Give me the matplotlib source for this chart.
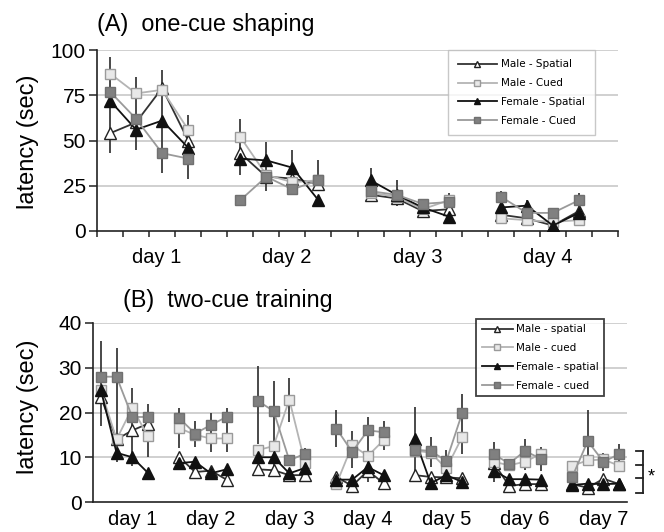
import numpy as np
import matplotlib
matplotlib.use("Agg")
from matplotlib import pyplot as plt

plt.rcParams['font.family'] = ['Liberation Sans', 'DejaVu Sans']

# ---- panel A: one-cue shaping (4 days x 4 trials) ----
days_a = ['day 1', 'day 2', 'day 3', 'day 4']
male_spatial_a = [54, 60, 79, 50, 43, 30, 29, 26, 20, 18, 11, 12, 9, 7, 3, 11]
male_cued_a = [87, 76, 78, 56, 52, 31, 27, 28, 21, 19, 12, 17, 7, 6, 5, 6]
female_spatial_a = [72, 56, 61, 46, 40, 39, 35, 17, 28, 20, 13, 8, 13, 14, 3, 10]
female_cued_a = [77, 62, 43, 40, 17, 30, 23, 28, 22, 20, 15, 16, 19, 10, 10, 17]
err_top_a = [96, 85, 89, 64, 62, 49, 45, 39, 35, 28, np.nan, 21, 22, 17, 6, 21]
err_bot_a = [43, 45, 32, 29, 31, 22, 21, 24, 17, 14, np.nan, 13, 5, 8, 0, 7]
labels_a = ['Male - Spatial', 'Male - Cued', 'Female - Spatial', 'Female - Cued']

# ---- panel B: two-cue training (7 days x 4 trials) ----
days_b = ['day 1', 'day 2', 'day 3', 'day 4', 'day 5', 'day 6', 'day 7']
male_spatial_b = [23.5, 14, 16, 17.5, 10, 6.7, 7, 5, 7.3, 7.1, 6, 6,
                  5.6, 3.6, 7, 4.2, 6, 5.6, 5.5, 5.3, 8.8, 3.6, 4, 4,
                  4, 3.2, 5.2, 4]
male_cued_b = [25, 14, 21, 14.7, 16.5, 15, 14.2, 14.2, 11.6, 12.5, 22.9, 8.7,
               4, 12.7, 10.3, 13.8, 11.5, 11, 7.5, 14.5, 9, 8.2, 9, 10.7,
               8.1, 9.3, 9.5, 8.1]
female_spatial_b = [25, 11, 10, 6.5, 8.7, 9, 6.4, 7.3, 10, 10, 6.4, 7.6,
                    5, 5, 7.8, 6, 14, 4.2, 6, 4.5, 7, 5.1, 5.1, 5,
                    3.8, 4.1, 4, 4.1]
female_cued_b = [28, 28, 19, 19, 18.7, 15.3, 17.2, 19, 22.6, 20.3, 9.3, 10.8,
                 16.4, 11.2, 16, 15.6, 11.7, 11.4, 9.2, 19.8, 10.7, 8.6, 11.4, 9.7,
                 5.5, 13.6, 9, 10.7]
err_top_b = [36, 34.4, 25.5, 22, 21, 18.2, 20, 21, 30.4, 27, 27.8, 12,
             20.6, 15.8, 19, 18.2, 21.2, 14.5, 11.6, 24.2, 13.3, np.nan, 14, 12.3,
             np.nan, 20.6, 11, 12.9]
err_bot_b = [17, 9, 8, 10, 12, 12.3, 11.2, 11.2, 13, 6, 17.8, 5.6,
             12.3, 7.6, 4.4, 11.6, 6.4, 7.8, 6, 10.8, 4.5, np.nan, 7.1, 7,
             np.nan, 9.3, 7, 8.5]
labels_b = ['Male - spatial', 'Male - cued', 'Female - spatial', 'Female - cued']

styles = [
    dict(color='#333333', marker='^', mfc='white', mec='#222222', ms=8.5),
    dict(color='#b4b4b4', marker='s', mfc='#e8e8e8', mec='#9a9a9a', ms=7.5),
    dict(color='#111111', marker='^', mfc='#111111', mec='#111111', ms=8.5),
    dict(color='#9a9a9a', marker='s', mfc='#808080', mec='#707070', ms=7.5),
]


def positions(n_days):
    return np.array([d * 5 + j + 0.5 for d in range(n_days) for j in range(4)])


def draw_panel(ax, n_days, series, labels, err_top, err_bot, ymax, ystep):
    x = positions(n_days)
    ax.vlines(x, err_bot, err_top, color='#3a3a3a', lw=1.3, zorder=3)
    for vals, st, lab in zip(series, styles, labels):
        vals = np.array(vals)
        for d in range(n_days):
            seg = slice(d * 4, d * 4 + 4)
            ax.plot(x[seg], vals[seg], lw=1.3, zorder=4,
                    label=lab if d == 0 else None, **st)
    ax.set_ylim(0, ymax)
    ax.set_yticks(np.arange(0, ymax + 1, ystep))
    for y in np.arange(ystep, ymax + 1, ystep):
        ax.axhline(y, color='#c8c8c8', lw=1.2, zorder=1)
    for s in ['top', 'right']:
        ax.spines[s].set_visible(False)
    for s in ['left', 'bottom']:
        ax.spines[s].set_color('#222222')
        ax.spines[s].set_linewidth(1.2)
    ax.tick_params(axis='y', labelsize=15, length=6, width=1.1, pad=2, color='#222222')
    return x


fig = plt.figure(figsize=(6.64, 5.32), dpi=100)

# panel A
ax1 = fig.add_axes([97 / 664, 1 - 231 / 532, 521 / 664, 181 / 532])
draw_panel(ax1, 4, [male_spatial_a, male_cued_a, female_spatial_a, female_cued_a],
           labels_a, err_top_a, err_bot_a, 100, 25)
ax1.set_xlim(0, 20)
ax1.set_xticks(np.arange(0, 21))
ax1.set_xticklabels([])
ax1.tick_params(axis='x', which='major', length=4, width=1.1, color='#222222')
ax1.set_xticks([d * 5 + 2.3 for d in range(4)], minor=True)
ax1.set_xticklabels(days_a, minor=True)
ax1.tick_params(axis='x', which='minor', length=0, labelsize=14.5, pad=12)
leg1 = ax1.legend(loc='upper right', bbox_to_anchor=(0.955, 1.0), borderaxespad=0,
                  prop={'family': 'DejaVu Sans', 'size': 7.5},
                  frameon=True, fancybox=False, borderpad=0.9, labelspacing=0.85,
                  handlelength=3.8, handletextpad=0.4, markerscale=0.55)
leg1.get_frame().set_edgecolor('#bbbbbb')
leg1.get_frame().set_linewidth(1.0)
leg1.set_zorder(6)

# panel B
ax2 = fig.add_axes([93 / 664, 1 - 502 / 532, 534 / 664, 179 / 532])
draw_panel(ax2, 7, [male_spatial_b, male_cued_b, female_spatial_b, female_cued_b],
           labels_b, err_top_b, err_bot_b, 40, 10)
ax2.set_xlim(0, 34)
ax2.set_xticks([])
ax2.set_xticks([d * 5 + 2.5 for d in range(7)], minor=True)
ax2.set_xticklabels(days_b, minor=True)
ax2.tick_params(axis='x', which='minor', length=0, labelsize=14.5, pad=6)
leg2 = ax2.legend(loc='upper right', bbox_to_anchor=(0.957, 1.022), borderaxespad=0,
                  prop={'family': 'DejaVu Sans', 'size': 7.5},
                  frameon=True, fancybox=False, borderpad=0.5, labelspacing=0.85,
                  handlelength=3.0, handletextpad=0.3, markerscale=0.55)
leg2.get_frame().set_edgecolor('#111111')
leg2.get_frame().set_linewidth(1.3)
leg2.set_zorder(6)

# significance bracket
bx = 35.0
ax2.plot([bx, bx], [1.9, 11.3], color='#222222', lw=1.3, clip_on=False)
for yb in [11.3, 8.3, 5.3, 1.9]:
    ax2.plot([bx - 0.4, bx], [yb, yb], color='#222222', lw=1.3, clip_on=False)
ax2.text(bx + 0.3, 5.6, '*', fontsize=13, ha='left', va='center', clip_on=False)

# titles and axis labels
fig.text(97 / 664, 1 - 25 / 532, '(A)  one-cue shaping', fontsize=16.8, va='center', ha='left')
fig.text(123 / 664, 1 - 300 / 532, '(B)  two-cue training', fontsize=16.8, va='center', ha='left')
fig.text(28 / 664, 1 - 142 / 532, 'latency (sec)', fontsize=17, rotation=90, va='center', ha='center')
fig.text(28 / 664, 1 - 407 / 532, 'latency (sec)', fontsize=17, rotation=90, va='center', ha='center')

fig.savefig('out.png', dpi=100)
